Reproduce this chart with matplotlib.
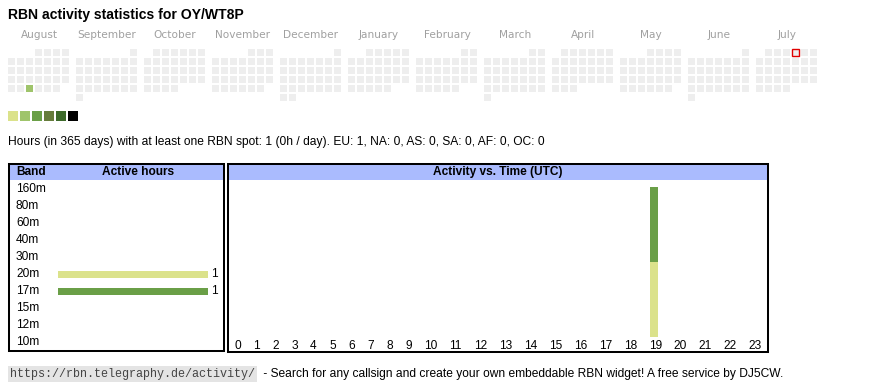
import datetime as dt
import matplotlib
matplotlib.use("Agg")
import matplotlib.pyplot as plt
from matplotlib.patches import Rectangle

plt.rcParams['font.family'] = ['Liberation Sans', 'DejaVu Sans']

# --- data ---
callsign = "OY/WT8P"
month_names = ["August", "September", "October", "November", "December", "January",
               "February", "March", "April", "May", "June", "July"]
first_month = (2024, 8)
today = dt.date(2025, 7, 4)
active_days = {dt.date(2024, 8, 28): 1}  # date -> colour level (0..5)
level_colors = ["#dbe28b", "#9fc46b", "#6a9f47", "#667c3b", "#3d6a2a", "#000000"]
empty_color = "#eeeeee"

stats_text = ("Hours (in 365 days) with at least one RBN spot: 1 (0h / day). "
              "EU: 1, NA: 0, AS: 0, SA: 0, AF: 0, OC: 0")

bands = ["160m", "80m", "60m", "40m", "30m", "20m", "17m", "15m", "12m", "10m"]
band_colors = ["#5a3d8a", "#a03030", "#c08040", "#e0a030", "#c0c040", "#dbe28b",
               "#6a9f47", "#40a0a0", "#4070c0", "#a040a0"]
active_hours = [0, 0, 0, 0, 0, 1, 1, 0, 0, 0]

hours = list(range(24))
hour_act = {b: [0] * 24 for b in bands}
hour_act["20m"] = [0, 0, 0, 0, 0, 0, 0, 0, 0, 0, 0, 0, 0, 0, 0, 0, 0, 0, 0, 1, 0, 0, 0, 0]
hour_act["17m"] = [0, 0, 0, 0, 0, 0, 0, 0, 0, 0, 0, 0, 0, 0, 0, 0, 0, 0, 0, 1, 0, 0, 0, 0]

url = "https://rbn.telegraphy.de/activity/"
footer = " - Search for any callsign and create your own embeddable RBN widget! A free service by DJ5CW."

header_blue = "#aabbfe"

# --- figure ---
W, H = 870, 390
fig = plt.figure(figsize=(W / 100, H / 100), dpi=100)


def rect(x0, y0, x1, y1):
    return [x0 / W, 1 - y1 / H, (x1 - x0) / W, (y1 - y0) / H]


bg = fig.add_axes([0, 0, 1, 1])
bg.set_xlim(0, W)
bg.set_ylim(H, 0)
bg.axis("off")

bg.text(8, 15, "RBN activity statistics for " + callsign, fontsize=10.1,
        fontweight="bold", va="center", ha="left")

# calendar
cell, pitch, block = 7, 9, 68
cx0, cy0 = 8, 49
y, m = first_month
for i, name in enumerate(month_names):
    first = dt.date(y, m, 1)
    nxt = dt.date(y + (m == 12), m % 12 + 1, 1)
    ndays = (nxt - first).days
    bx = cx0 + i * block
    bg.text(bx + 7 * pitch / 2 - 0.5, 35, name, fontsize=7.6, color="#a0a0a0",
            ha="center", va="center", family="DejaVu Sans")
    for d in range(ndays):
        day = first + dt.timedelta(days=d)
        idx = first.weekday() + d
        r, c = divmod(idx, 7)
        fc = level_colors[active_days[day]] if day in active_days else empty_color
        ec = "#e00000" if day == today else "none"
        bg.add_patch(Rectangle((bx + c * pitch, cy0 + r * pitch), cell, cell,
                               facecolor=fc, edgecolor=ec, lw=1.0))
    y, m = nxt.year, nxt.month

for k, col in enumerate(level_colors):
    bg.add_patch(Rectangle((8 + 12 * k, 111), 10, 10, facecolor=col, edgecolor="none"))

bg.text(8, 142, stats_text, fontsize=8.63, va="center", ha="left")

bg.text(10, 374, url, fontsize=8.5, va="center", ha="left", family="Liberation Mono",
        color="#444444",
        bbox=dict(boxstyle="square,pad=0.15", facecolor="#e4e4e4", edgecolor="none"))
bg.text(260, 374, footer, fontsize=8.67, va="center", ha="left")

# band panel
L, R, T, B = 9, 224, 164, 351
ax1 = fig.add_axes(rect(L, T, R, B))
row0, rowp = 189, 17
x0px, xlen = 58, 150
vmax = max(active_hours)
ax1.set_ylim((B - row0) / rowp, (T - row0) / rowp)
ax1.set_xlim((L - x0px) / xlen * vmax, (R - x0px) / xlen * vmax)
ax1.axhspan((T - row0) / rowp, (180 - row0) / rowp, color=header_blue, lw=0)
ypos = list(range(len(bands)))
ax1.barh(ypos, active_hours, height=7 / rowp, color=band_colors)
tr = ax1.get_yaxis_transform()
hy = (172 - row0) / rowp
ax1.text((16 - L) / (R - L), hy, "Band", transform=tr, fontsize=8.6, fontweight="bold",
         va="center", ha="left")
ax1.text((138 - L) / (R - L), hy, "Active hours", transform=tr, fontsize=8.6,
         fontweight="bold", va="center", ha="center")
for yy, b, v in zip(ypos, bands, active_hours):
    ax1.text((16 - L) / (R - L), yy, b, transform=tr, fontsize=8.6, va="center", ha="left")
    if v > 0:
        ax1.text(v + 3 / xlen * vmax, yy, str(v), fontsize=8.6, va="center", ha="left")
ax1.set_xticks([])
ax1.set_yticks([])
for s in ax1.spines.values():
    s.set_linewidth(1.45)

# time panel
L2, R2, T2, B2 = 228, 768, 164, 352
ax2 = fig.add_axes(rect(L2, T2, R2, B2))
widths = [13 + 6 * len(str(h)) for h in hours]
centers = []
acc = 0
for w in widths:
    centers.append(acc + w / 2)
    acc += w
totals = [sum(hour_act[b][h] for b in bands) for h in hours]
base_px, bar_len = 337, 150
tmax = max(totals)
ppu = bar_len / tmax
ax2.set_xlim(0, R2 - L2)
ax2.set_ylim(-(B2 - base_px) / ppu, (base_px - T2) / ppu)
ax2.axhspan((base_px - 180) / ppu, (base_px - T2) / ppu, color=header_blue, lw=0)
bottom = [0] * 24
for b, col in zip(bands, band_colors):
    vals = hour_act[b]
    if sum(vals) == 0:
        continue
    ax2.bar([c - 1.5 for c in centers], vals, width=8, bottom=bottom, color=col, lw=0)
    bottom = [p + q for p, q in zip(bottom, vals)]
ax2.text(0.5, (base_px - 172) / ppu, "Activity vs. Time (UTC)", transform=ax2.get_yaxis_transform(),
         fontsize=8.6, fontweight="bold", ha="center", va="center")
for c, h in zip(centers, hours):
    ax2.text(c, -(346 - base_px) / ppu, str(h), fontsize=8.6, ha="center", va="center")
ax2.set_xticks([])
ax2.set_yticks([])
for s in ax2.spines.values():
    s.set_linewidth(1.45)

fig.savefig("out.png", dpi=100)
